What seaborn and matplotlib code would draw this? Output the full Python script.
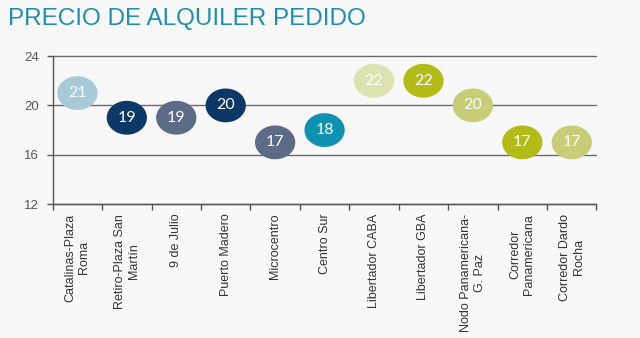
import numpy as np
import pandas as pd
import matplotlib
matplotlib.use("Agg")
import matplotlib.pyplot as plt
from matplotlib.path import Path
from matplotlib.ticker import FixedLocator
import seaborn as sns

categories = ["Catalinas-Plaza\nRoma", "Retiro-Plaza San\nMartín", "9 de Julio",
              "Puerto Madero", "Microcentro", "Centro Sur", "Libertador CABA",
              "Libertador GBA", "Nodo Panamericana-\nG. Paz", "Corredor\nPanamericana",
              "Corredor Dardo\nRocha"]
values = [21, 19, 19, 20, 17, 18, 22, 22, 20, 17, 17]
colors = ["#A6CAD8", "#0B3866", "#5C6C87", "#0B3866", "#5C6C87", "#0E92B0",
          "#DCE2B0", "#B3BB16", "#C8CD78", "#B3BB16", "#C8CD78"]
yticks = [12, 16, 20, 24]

sns.set_theme(style="white")
plt.rcParams['font.family'] = ['Liberation Sans', 'DejaVu Sans']

bg = "#F8F8F8"
fig = plt.figure(figsize=(6.4, 3.38), dpi=100, facecolor=bg)
ax = fig.add_axes([0.0823, 0.3964, 0.932 - 0.0823, 0.834 - 0.3964])
ax.set_facecolor(bg)

# ellipse marker (wider than tall)
t = np.linspace(0, 2 * np.pi, 100)
ell = Path(np.column_stack([np.cos(t), 0.84 * np.sin(t)]), closed=True)

df = pd.DataFrame({"cat": categories, "val": values})
sns.scatterplot(data=df, x="cat", y="val", hue="cat", palette=colors,
                marker=ell, s=840, linewidth=0, legend=False, ax=ax, zorder=3)

for i, v in enumerate(values):
    ax.text(i, v, str(v), ha="center", va="center", color="white",
            fontsize=11.5, family=["Lato", "DejaVu Sans"], zorder=4)

ax.set_xlim(-0.5, len(categories) - 0.5)
ax.set_ylim(12, 24)
ax.set_yticks(yticks)
ax.set_xlabel("")
ax.set_ylabel("")

ax.yaxis.grid(True, color="#6A6A6A", linewidth=1)
for gl in ax.get_ygridlines():
    gl.set_clip_on(False)
ax.set_axisbelow(True)

for s in ["top", "right"]:
    ax.spines[s].set_visible(False)
for s in ["left", "bottom"]:
    ax.spines[s].set_color("#555555")
    ax.spines[s].set_linewidth(1)

ax.set_xticks(range(len(categories)))
ax.set_xticklabels(categories, rotation=90, ha="center", va="top",
                   multialignment="center", fontsize=9, color="#333333")
ax.tick_params(axis="x", which="major", length=0, pad=7)
ax.xaxis.set_minor_locator(FixedLocator(np.arange(-0.5, len(categories), 1.0)))
ax.tick_params(axis="x", which="minor", bottom=True, length=4, width=1, color="#555555")
ax.tick_params(axis="y", left=True, length=4, width=1, color="#555555",
               labelsize=9.5, labelcolor="#555555", pad=6)

fig.text(0.012, 0.945, "PRECIO DE ALQUILER PEDIDO", fontsize=17.5, color="#1C8FB0",
         ha="left", va="center")

fig.savefig("out.png", dpi=100, facecolor=bg)
